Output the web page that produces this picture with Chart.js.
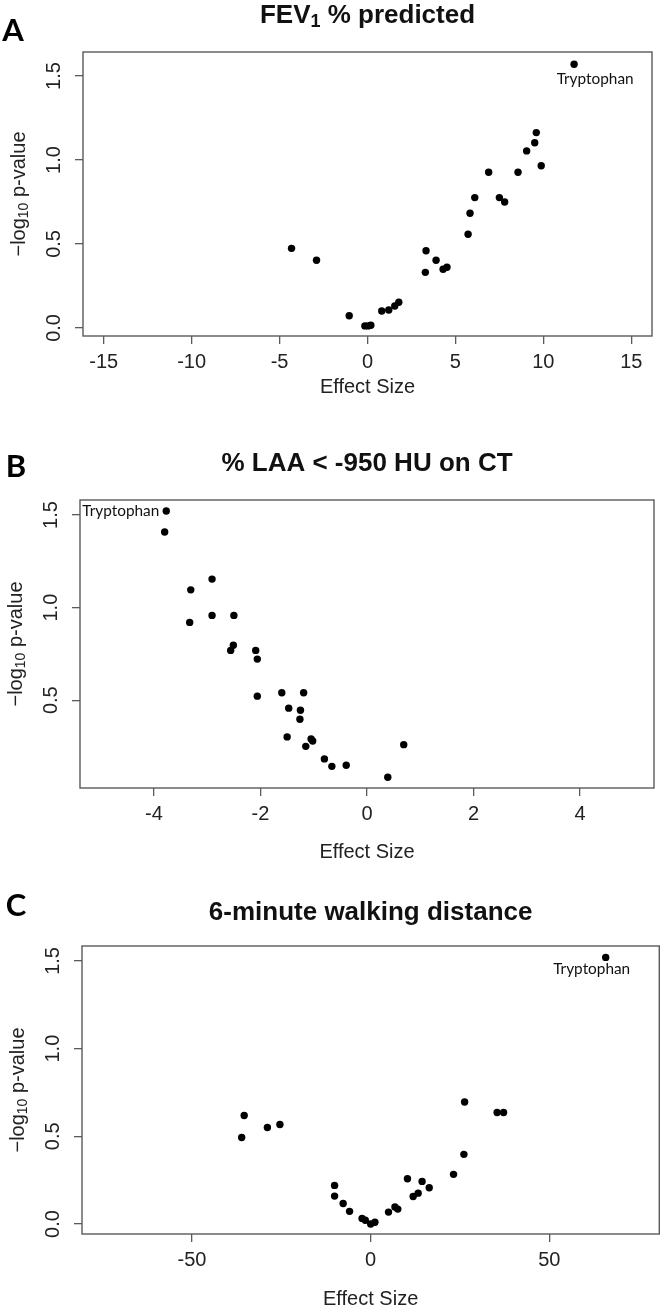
<!DOCTYPE html>
<html><head><meta charset="utf-8">
<script src="https://cdn.jsdelivr.net/npm/chart.js@4.4.1/dist/chart.umd.min.js"></script>
<style>
html,body{margin:0;padding:0;background:#fff;}
#wrap{position:relative;width:663px;height:1308px;overflow:hidden;}
canvas{position:absolute;left:0;}
</style></head><body>
<div id="wrap">
<canvas id="cA"></canvas><canvas id="cB"></canvas><canvas id="cC"></canvas>
</div>
<script>
// ---- Panel A: FEV1 % predicted (first point = Tryptophan)
const fevEffect = [11.75, -4.32, -2.90, -1.04, -0.15, 0.04, 0.19, 0.81, 1.21, 1.55, 1.78, 3.29, 3.33, 3.90, 4.30, 4.52, 5.72, 5.83, 6.10, 6.89, 7.50, 7.80, 8.56, 9.05, 9.51, 9.60, 9.88];
const fevLogP   = [1.57, 0.474, 0.403, 0.073, 0.012, 0.012, 0.016, 0.101, 0.107, 0.131, 0.153, 0.331, 0.460, 0.403, 0.349, 0.361, 0.558, 0.683, 0.776, 0.927, 0.776, 0.750, 0.927, 1.054, 1.103, 1.163, 0.966];
const fevXTicks = [-15, -10, -5, 0, 5, 10, 15];
const fevYTicks = [0, 0.5, 1.0, 1.5];

// ---- Panel B: % LAA < -950 HU on CT (first point = Tryptophan)
const laaEffect = [-3.77, -3.80, -3.31, -3.33, -2.91, -2.91, -2.50, -2.51, -2.56, -2.09, -2.06, -2.06, -1.60, -1.19, -1.47, -1.25, -1.26, -1.50, -1.05, -1.02, -1.15, -0.80, -0.66, -0.39, 0.39, 0.69];
const laaLogP   = [1.522, 1.408, 1.096, 0.920, 1.154, 0.958, 0.958, 0.797, 0.769, 0.769, 0.722, 0.522, 0.540, 0.540, 0.457, 0.446, 0.397, 0.302, 0.291, 0.280, 0.251, 0.183, 0.143, 0.149, 0.084, 0.260];
const laaXTicks = [-4, -2, 0, 2, 4];
const laaYTicks = [0.5, 1.0, 1.5];

// ---- Panel C: 6-minute walking distance (first point = Tryptophan)
const walkEffect = [65.8, -36.1, -35.4, -28.9, -25.4, -10.1, -10.1, -7.7, -5.9, -2.4, -1.5, 0.0, 1.2, 5.0, 6.8, 7.6, 10.3, 11.9, 13.3, 14.4, 16.4, 23.2, 26.1, 26.3, 35.4, 37.2];
const walkLogP   = [1.520, 0.493, 0.619, 0.550, 0.567, 0.220, 0.159, 0.117, 0.072, 0.032, 0.021, 0.0, 0.010, 0.068, 0.097, 0.085, 0.258, 0.157, 0.176, 0.243, 0.207, 0.283, 0.397, 0.696, 0.636, 0.636];
const walkXTicks = [-50, 0, 50];
const walkYTicks = [0, 0.5, 1.0, 1.5];

const panelLetters = ['A', 'B', 'C'];
const xAxisTitle = 'Effect Size';
const highlightName = 'Tryptophan';

const SANS = '"Liberation Sans", Arial, Helvetica, sans-serif';
const LETTERF = 'Lato, "Open Sans", sans-serif';

const panels = [
  { id:'cA', letter:panelLetters[0], top:0, height:420,
    title:[{t:'FEV', s:26}, {t:'1', s:18, dy:6}, {t:' % predicted', s:26}], titleY:16,
    box:{l:83, r:652, t:52, b:336}, xr:[-16.18, 16.18], yr:[-0.048, 1.643],
    xs:fevEffect, ys:fevLogP, xt:fevXTicks, yt:fevYTicks,
    letterPos:[13, 31], xlabY:387, lab:{mode:'below', dx:21, dy:15} },
  { id:'cB', letter:panelLetters[1], top:420, height:460,
    title:[{t:'% LAA < -950 HU on CT', s:26}], titleY:464,
    box:{l:80, r:654, t:500, b:788}, xr:[-5.39, 5.39], yr:[0.026, 1.581],
    xs:laaEffect, ys:laaLogP, xt:laaXTicks, yt:laaYTicks,
    letterPos:[16, 467], xlabY:852, lab:{mode:'left', dx:-7, dy:0} },
  { id:'cC', letter:panelLetters[2], top:880, height:428,
    title:[{t:'6-minute walking distance', s:26}], titleY:913,
    box:{l:82, r:661, t:946, b:1234}, xr:[-80.8, 80.8], yr:[-0.057, 1.585],
    xs:walkEffect, ys:walkLogP, xt:walkXTicks, yt:walkYTicks,
    letterPos:[16, 906], xlabY:1299, lab:{mode:'below', dx:-14, dy:12} }
];

function richWidth(ctx, parts, bold){
  let w = 0;
  parts.forEach(p => { ctx.font = (bold?'bold ':'') + p.s + 'px ' + SANS; w += ctx.measureText(p.t).width; });
  return w;
}
function drawRich(ctx, parts, cx, cy, bold, color){
  const w = richWidth(ctx, parts, bold);
  let x = cx - w/2;
  ctx.fillStyle = color; ctx.textAlign = 'left'; ctx.textBaseline = 'middle';
  parts.forEach(p => {
    ctx.font = (bold?'bold ':'') + p.s + 'px ' + SANS;
    ctx.fillText(p.t, x, cy + (p.dy||0));
    x += ctx.measureText(p.t).width;
  });
}

panels.forEach(P => {
  const cv = document.getElementById(P.id);
  cv.width = 663; cv.height = P.height;
  cv.style.top = P.top + 'px';
  cv.style.width = '663px'; cv.style.height = P.height + 'px';
  const off = P.top;

  const decor = {
    id:'decor',
    afterDraw(chart){
      const ctx = chart.ctx, ca = chart.chartArea;
      const xs = chart.scales.x, ys = chart.scales.y;
      ctx.save();
      // box
      ctx.strokeStyle = '#5a5a5a'; ctx.lineWidth = 1.4;
      ctx.strokeRect(ca.left, ca.top, ca.right - ca.left, ca.bottom - ca.top);
      // y tick labels (rotated, R style)
      ctx.fillStyle = '#222'; ctx.font = '20px ' + SANS;
      ctx.textAlign = 'center'; ctx.textBaseline = 'middle';
      P.yt.forEach(v => {
        const py = ys.getPixelForValue(v);
        ctx.save(); ctx.translate(ca.left - 29, py); ctx.rotate(-Math.PI/2);
        ctx.fillText(v.toFixed(1), 0, 0); ctx.restore();
      });
      // y axis title with subscript
      ctx.save();
      ctx.translate(ca.left - 64, (ca.top + ca.bottom)/2); ctx.rotate(-Math.PI/2);
      drawRich(ctx, [{t:'\u2212log', s:20}, {t:'10', s:14, dy:5}, {t:' p-value', s:20}], 0, 0, false, '#222');
      ctx.restore();
      // x axis title
      ctx.fillStyle = '#222'; ctx.font = '20px ' + SANS;
      ctx.textAlign = 'center'; ctx.textBaseline = 'middle';
      ctx.fillText(xAxisTitle, (ca.left + ca.right)/2, P.xlabY - off);
      // main title
      drawRich(ctx, P.title, (ca.left + ca.right)/2, P.titleY - off, true, '#111');
      // panel letter
      ctx.fillStyle = '#000'; ctx.font = 'bold 31px ' + LETTERF;
      ctx.textAlign = 'center'; ctx.textBaseline = 'middle';
      ctx.fillText(P.letter, P.letterPos[0], P.letterPos[1] - off);
      // highlighted point label
      const px = xs.getPixelForValue(P.xs[0]), py = ys.getPixelForValue(P.ys[0]);
      ctx.font = '14px ' + LETTERF;
      const fs = 14 * 77 / ctx.measureText(highlightName).width;
      ctx.font = fs.toFixed(2) + 'px ' + LETTERF;
      ctx.fillStyle = '#111'; ctx.textBaseline = 'middle';
      if (P.lab.mode === 'left'){ ctx.textAlign = 'right'; ctx.fillText(highlightName, px + P.lab.dx, py + P.lab.dy); }
      else { ctx.textAlign = 'center'; ctx.fillText(highlightName, px + P.lab.dx, py + P.lab.dy); }
      ctx.restore();
    }
  };

  const gridOpt = { display:true, drawOnChartArea:false, drawTicks:true, tickLength:8, color:'#5a5a5a', lineWidth:1.3 };

  new Chart(cv, {
    type:'scatter',
    data:{ datasets:[{ data:P.xs.map((x,i)=>({x:x, y:P.ys[i]})), pointRadius:3.7, pointHoverRadius:3.7,
      backgroundColor:'#000', borderColor:'#000', borderWidth:0 }] },
    options:{
      responsive:false, animation:false, events:[],
      layout:{ padding:{ top:P.box.t - off, right:663 - P.box.r, left:0, bottom:0 } },
      plugins:{ legend:{display:false}, tooltip:{enabled:false}, title:{display:false} },
      scales:{
        x:{ type:'linear', min:P.xr[0], max:P.xr[1],
          afterFit:s => { s.height = P.height - (P.box.b - off); },
          afterBuildTicks:s => { s.ticks = P.xt.map(v => ({value:v})); },
          grid:gridOpt, border:{display:false},
          ticks:{ font:{family:SANS, size:20}, color:'#222', padding:6, maxRotation:0, minRotation:0, autoSkip:false,
            callback:v => String(v) } },
        y:{ type:'linear', min:P.yr[0], max:P.yr[1],
          afterFit:s => { s.width = P.box.l; },
          afterBuildTicks:s => { s.ticks = P.yt.map(v => ({value:v})); },
          grid:gridOpt, border:{display:false},
          ticks:{ display:false } }
      }
    },
    plugins:[decor]
  });
});
</script>
</body></html>
